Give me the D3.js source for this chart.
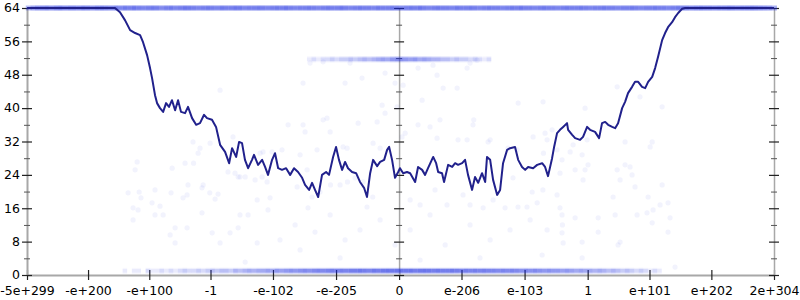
<!DOCTYPE html>
<html><head><meta charset="utf-8">
<script src="https://cdn.jsdelivr.net/npm/d3@7"></script>
<style>body{margin:0;background:#fff}svg{display:block}</style>
</head><body><svg id="c" width="800" height="300"></svg>
<script>
// ---- data ----
const xTickValues = [-5e299, -1e200, -1e100, -1, -1e-102, -1e-205, 0, 1e-206, 1e-103, 1, 1e101, 1e202, 2e304];
const xTickLabels = ["-5e+299", "-e+200", "-e+100", "-1", "-e-102", "-e-205", "0", "e-206", "e-103", "1", "e+101", "e+202", "2e+304"];
const yMajorTicks = [0, 8, 16, 24, 32, 40, 48, 56, 64];
const yMinorTicks = [4, 12, 20, 28, 36, 44, 52, 60];
const xDomain = [-5e299, 2e304];
const yDomain = [0, 64];

// line: [float-ordinal position, value]
const lineData = [[-2018,64],[-1541,64],[-1514,63.0],[-1487,61.1],[-1459,58.7],[-1432,58.0],[-1405,57.5],[-1389,55.8],[-1367,52.7],[-1351,49.6],
[-1340,47.2],[-1324,43.1],[-1313,41.2],[-1297,40.0],[-1280,39.1],[-1264,41.2],[-1248,40.3],[-1232,41.9],[-1215,39.5],[-1199,41.9],
[-1183,39.1],[-1161,38.8],[-1145,40.3],[-1123,37.6],[-1101,36.0],[-1080,36.4],[-1058,38.4],[-1042,37.6],[-1015,37.2],[-993,35.5],
[-971,31.2],[-944,29.5],[-922,26.8],[-906,30.4],[-884,28.3],[-868,31.9],[-852,31.6],[-836,27.6],[-819,25.6],[-798,27.6],
[-787,28.8],[-765,26.4],[-743,27.6],[-727,25.9],[-711,24.0],[-689,27.6],[-673,29.2],[-656,25.6],[-635,25.2],[-613,25.6],
[-591,24.0],[-570,25.6],[-548,24.7],[-526,23.3],[-510,21.6],[-488,20.4],[-472,22.1],[-456,20.4],[-439,18.7],[-418,24.0],
[-396,24.7],[-380,24.0],[-358,28.3],[-342,30.7],[-326,27.6],[-309,25.2],[-293,27.1],[-277,25.6],[-255,24.7],[-233,24.4],
[-212,22.3],[-190,20.9],[-174,18.7],[-157,24.4],[-141,27.6],[-119,26.1],[-103,27.1],[-81,27.6],[-65,30.0],[-54,30.7],
[-38,27.6],[-22,23.3],[-5,24.7],[5,25.6],
[22,24.4],[43,24.7],[60,24.4],[87,22.3],[103,25.9],[125,25.2],[141,24.0],[157,25.6],[185,28.3],[201,26.8],[212,24.7],[233,24.4],[244,22.3],
[266,26.4],[288,25.9],[304,26.8],[320,26.4],[342,26.8],[358,27.6],[374,24.0],[396,20.4],[412,23.5],[429,22.1],[450,24.4],[467,22.3],
[477,28.3],[494,27.6],[510,22.8],[532,19.2],[548,20.4],[564,26.8],[586,30.0],[602,30.4],[629,30.7],[646,27.6],[667,25.9],[684,25.2],
[700,25.9],[727,25.6],[749,26.4],[776,26.8],[792,25.9],[808,23.7],[830,28.0],[841,30.7],[857,34.0],[873,34.8],[890,35.5],[911,36.4],
[917,34.8],[939,33.6],[955,32.8],[982,32.4],[998,33.1],[1020,35.5],[1036,34.8],[1063,34.3],[1085,32.8],[1101,36.4],[1118,36.7],
[1134,36.0],[1156,35.5],[1172,35.2],[1188,36.4],[1210,40.0],[1226,41.5],[1242,43.6],[1264,45.1],[1280,46.3],[1297,46.3],[1318,45.1],
[1335,44.8],[1351,46.3],[1373,47.5],[1389,49.6],[1405,52.3],[1427,56.3],[1443,58.0],[1459,59.4],[1481,60.6],[1497,61.8],[1514,62.8],
[1535,63.8],[1552,64],[2034,64]];

// isolated observations: [float-ordinal position, value]
const scatterData = [[-971,44.3],[-901,33.1],[-1118,31.9],[-1025,31.6],[-1080,30.4],[-1090,29.2],[-1421,27.1],[-1432,25.2],[-1231,25.6],[-1161,26.8],[-1115,26.8],[-928,24.7],[-890,24.4],[-873,23.5],[-835,23.5],[-1145,21.6],[-1063,21.6],[-1470,19.7],[-1410,19.9],[-1324,20.4],[-1237,19.7],[-1150,19.2],[-1027,19.7],[-982,19.4],[-1400,18.5],[-1172,18.5],[-1069,20.9],[-998,18.2],
[-602,36.0],[-521,36.0],[-510,34.3],[-412,37.2],[-391,37.6],[-374,34.3],[-222,36.4],[-119,36.7],[-92,40.7],[-76,38.8],[-11,40.3],[-738,29.5],[-754,29.2],[-689,29.5],[-635,30.0],[-537,28.8],[-445,30.0],[-304,30.7],[-282,30.4],[-141,31.6],[-103,30.4],[-863,23.5],[-781,22.8],[-743,23.5],[-716,22.3],[-499,25.2],[-429,19.9],[-372,21.6],[-320,21.6],[-770,18.0],[-700,18.5],[-553,21.1],[-472,18.7],[-494,16.1],[-280,22.3],[-239,23.3],[-195,22.3],[-143,18.7],[-174,16.3],
[125,41.9],[646,41.2],[781,41.5],[103,36.0],[168,35.5],[222,37.2],[401,36.0],[405,37.2],[483,31.9],[494,32.4],[33,34.0],[16,33.1],[206,32.8],[320,32.4],[369,32.4],[792,34.0],[803,32.4],[727,33.1],[591,30.4],[640,30.0],[783,29.2],[857,30.0],[618,23.3],[780,20.4],[722,19.9],[195,20.4],[347,19.2],[510,18.0],[575,16.1],[645,16.3],[694,16.3],[260,16.8],[114,16.8],[385,16.8],[456,16.1],[60,18.0],
[1183,45.1],[1307,42.7],[1009,40.0],[1427,40.3],[1226,31.9],[1373,31.9],[1362,30.7],[884,27.6],[993,28.8],[928,29.5],[944,31.2],[1020,32.4],[1025,26.4],[1226,26.4],[1253,25.9],[873,24.4],[955,25.2],[1009,25.2],[1183,25.2],[1264,24.0],[998,22.8],[1199,22.8],[1427,21.6],[1280,21.1],[857,19.2],[1161,18.7],[1351,18.7],[830,34.8],
[749,17.3],[873,16.1],[884,14.4],[955,13.7],[1080,13.7],[1172,14.4],[1291,14.4],[1345,14.9],[1378,15.6],[1416,16.8],[1459,17.3],[1470,13.7],[886,12.0],[803,10.8],[884,10.1],[1080,10.3],[1373,12.5],[1459,10.3],[890,7.7],[993,7.9],[1199,7.9],[1188,7.2],[776,4.8],[993,4.1],[1497,1.9],
[-1443,16.1],[-1416,15.6],[-1340,17.3],[-1297,16.5],[-1443,13.2],[-1324,14.4],[-1280,14.4],[-1215,11.3],[-1150,11.3],[-1242,9.6],[-1215,7.7],[-1069,14.9],[-1014,10.1],[-917,10.1],[-863,14.4],[-819,14.4],[-873,11.3],[-971,7.7],[-770,7.7],[-835,3.1],[-711,15.6],
[-483,50.8],[-412,51.1],[-266,50.8],[-76,48.4],[-22,46.0],[103,49.6],[184,50.3],[206,47.9],[369,49.6],[385,50.8],[423,51.5],[-521,46.0],[-293,46.0],[-201,47.2],[22,45.5],[239,44.8],[315,44.8],
[-564,12.0],[-374,14.4],[-293,8.4],[-212,10.8],[-103,13.2],[-22,7.2],[60,10.8],[168,14.4],[250,7.2],[385,12.0],[494,8.4],[602,10.8],[711,13.2],[-537,6.0],[-320,4.1],[114,3.6],[439,4.1],[-646,8.4],[-456,10.3]];

// dense bands: number of observations per bin of 25 ordinal units
const bandBinWidth = 25;
const topBandStart = -2025, topBandValue = 64;
const topBandCounts = [5,8,10,11,12,10,12,13,11,12, 12,11,13,12,10,12,13,12,11,12, 11,13,12,14,12,11,12,13,12,10,
 12,13,11,12,14,13,12,11,12,13, 12,11,13,12,12,14,13,11,12,12, 13,12,11,12,13,12,14,12,11,12,
 12,13,12,11,12,13,12,12,14,12, 11,12,13,12,12,11,13,12,12,13, 12,11,12,13,12,14,12,11,12,13,
 12,12,11,13,12,12,13,12,11,12, 13,12,12,11,12,13,12,14,12,12, 11,12,13,12,12,11,12,13,12,12,
 13,12,11,12,12,13,12,12,11,12, 12,13,12,11,12,12,13,12,12,11, 12,13,12,12,11,12,13,12,12,11,
 12,12,13,12,11,12,12,13,12,11, 10,9,6];
const bottomBandStart = -1500, bottomBandValue = 1;
const bottomBandCounts = [1,0,1,1,0,2,1,1,2,1, 2,1,2,3,2,2,3,2,3,4, 3,4,4,3,5,4,5,6,5,6, 6,7,6,8,7,8,9,8,9,10,
 9,10,11,10,11,12,11,12,11,12, 12,13,12,11,13,12,13,14,13,14, 14,13,14,12,13,14,13,12,13,12,
 12,13,12,11,12,11,12,11,12,11, 11,10,11,10,11,10,9,10,9,10, 9,8,9,8,8,7,8,7,6,7,
 6,6,5,6,5,4,5,4,3,4, 3,2,3,2,1,2,1];
const midBandStart = -500, midBandValue = 51.7;
const midBandCounts = [1,2,1,2,2,3,2,3,3,4, 3,4,5,4,5,6,7,6,8,9, 9,8,7,8,6,7,6,5,5,4, 4,3,4,3,3,2,3,2,1,2];

// ---- helpers ----
// position of a double in the ordered set of floats (exponent + mantissa fraction)
function floatOrd(v) {
  if (v === 0) return 0;
  const s = Math.sign(v), a = Math.abs(v);
  let e = Math.floor(Math.log2(a));
  let m = a / Math.pow(2, e);
  if (m >= 2) { m /= 2; e++; }
  if (m < 1) { m *= 2; e--; }
  return s * (1023 + e + (m - 1));
}

const W = 800, H = 300;
const margin = {left: 27, right: 26, top: 8, bottom: 25};
const x = d3.scaleLinear().domain(xDomain.map(floatOrd)).range([margin.left, W - margin.right]);
const y = d3.scaleLinear().domain(yDomain).range([H - margin.bottom, margin.top]);

const svg = d3.select("#c");
const FONT = "'DejaVu Sans', sans-serif";
const axisColor = "#a8a8a8", tickColor = "#222";
const dotColor = "#1a2ae0", dotAlpha = 0.055, bandAlpha = 0.075;

// ---- axes ----
const gx = svg.append("g").attr("transform", `translate(0,${y(0)})`)
  .call(d3.axisBottom(x).tickValues(xTickValues.map(floatOrd))
    .tickFormat((d, i) => xTickLabels[i]).tickSize(5).tickSizeOuter(0).tickPadding(6));
gx.attr("font-family", FONT).attr("font-size", 12.5);
gx.select(".domain").attr("stroke", axisColor).attr("stroke-width", 2);
gx.selectAll(".tick line").attr("y1", -5).attr("y2", 5).attr("stroke", tickColor).attr("stroke-width", 1.2);
gx.selectAll(".tick text").attr("fill", "#000");

function yAxisAt(xpos, withLabels, width) {
  const g = svg.append("g").attr("transform", `translate(${xpos},0)`)
    .call(d3.axisLeft(y).tickValues(yMajorTicks).tickSize(5).tickSizeOuter(0).tickPadding(2)
      .tickFormat(withLabels ? d3.format("d") : () => ""));
  g.attr("font-family", FONT).attr("font-size", 12.5);
  g.select(".domain").attr("stroke", axisColor).attr("stroke-width", width);
  g.selectAll(".tick line").attr("x1", 5).attr("x2", -5).attr("stroke", tickColor).attr("stroke-width", 1.2);
  g.selectAll(".tick text").attr("fill", "#000").attr("dy", "0.3em");
  const gm = svg.append("g").attr("transform", `translate(${xpos},0)`)
    .call(d3.axisLeft(y).tickValues(yMinorTicks).tickSize(3).tickSizeOuter(0).tickFormat(() => ""));
  gm.select(".domain").remove();
  gm.selectAll(".tick line").attr("x1", 3).attr("x2", -3).attr("stroke", "#555").attr("stroke-width", 1);
}
yAxisAt(x(floatOrd(xDomain[0])), true, 2);
yAxisAt(x(0), false, 1.5);
yAxisAt(x(floatOrd(xDomain[1])), false, 1.5);

// ---- points ----
const gp = svg.append("g");
function band(start, value, counts) {
  const bins = counts.map((n, i) => ({k0: start + i * bandBinWidth, k1: start + (i + 1) * bandBinWidth, v: value, n}))
    .filter(d => d.n > 0);
  const op = d => 1 - Math.pow(1 - bandAlpha, d.n);
  // soft outer fringe
  gp.selectAll(null).data(bins).enter().append("rect")
    .attr("x", d => x(d.k0)).attr("width", d => x(d.k1) - x(d.k0))
    .attr("y", d => y(d.v) - 3).attr("height", 6)
    .attr("fill", dotColor).attr("fill-opacity", d => op(d) * 0.45);
  // dense core
  gp.selectAll(null).data(bins).enter().append("rect")
    .attr("x", d => x(d.k0)).attr("width", d => x(d.k1) - x(d.k0))
    .attr("y", d => y(d.v) - 1.8).attr("height", 3.6)
    .attr("fill", dotColor).attr("fill-opacity", d => op(d) * 0.75);
}
band(topBandStart, topBandValue, topBandCounts);
band(bottomBandStart, bottomBandValue, bottomBandCounts);
band(midBandStart, midBandValue, midBandCounts);

gp.selectAll(null).data(scatterData).enter().append("circle")
  .attr("cx", d => x(d[0])).attr("cy", d => y(d[1])).attr("r", 2.6)
  .attr("fill", dotColor).attr("fill-opacity", dotAlpha);

// ---- line ----
svg.append("path").datum(lineData)
  .attr("fill", "none").attr("stroke", "#21218c").attr("stroke-width", 2)
  .attr("stroke-linejoin", "round")
  .attr("d", d3.line().x(d => x(d[0])).y(d => y(d[1])));
</script>
</body></html>
